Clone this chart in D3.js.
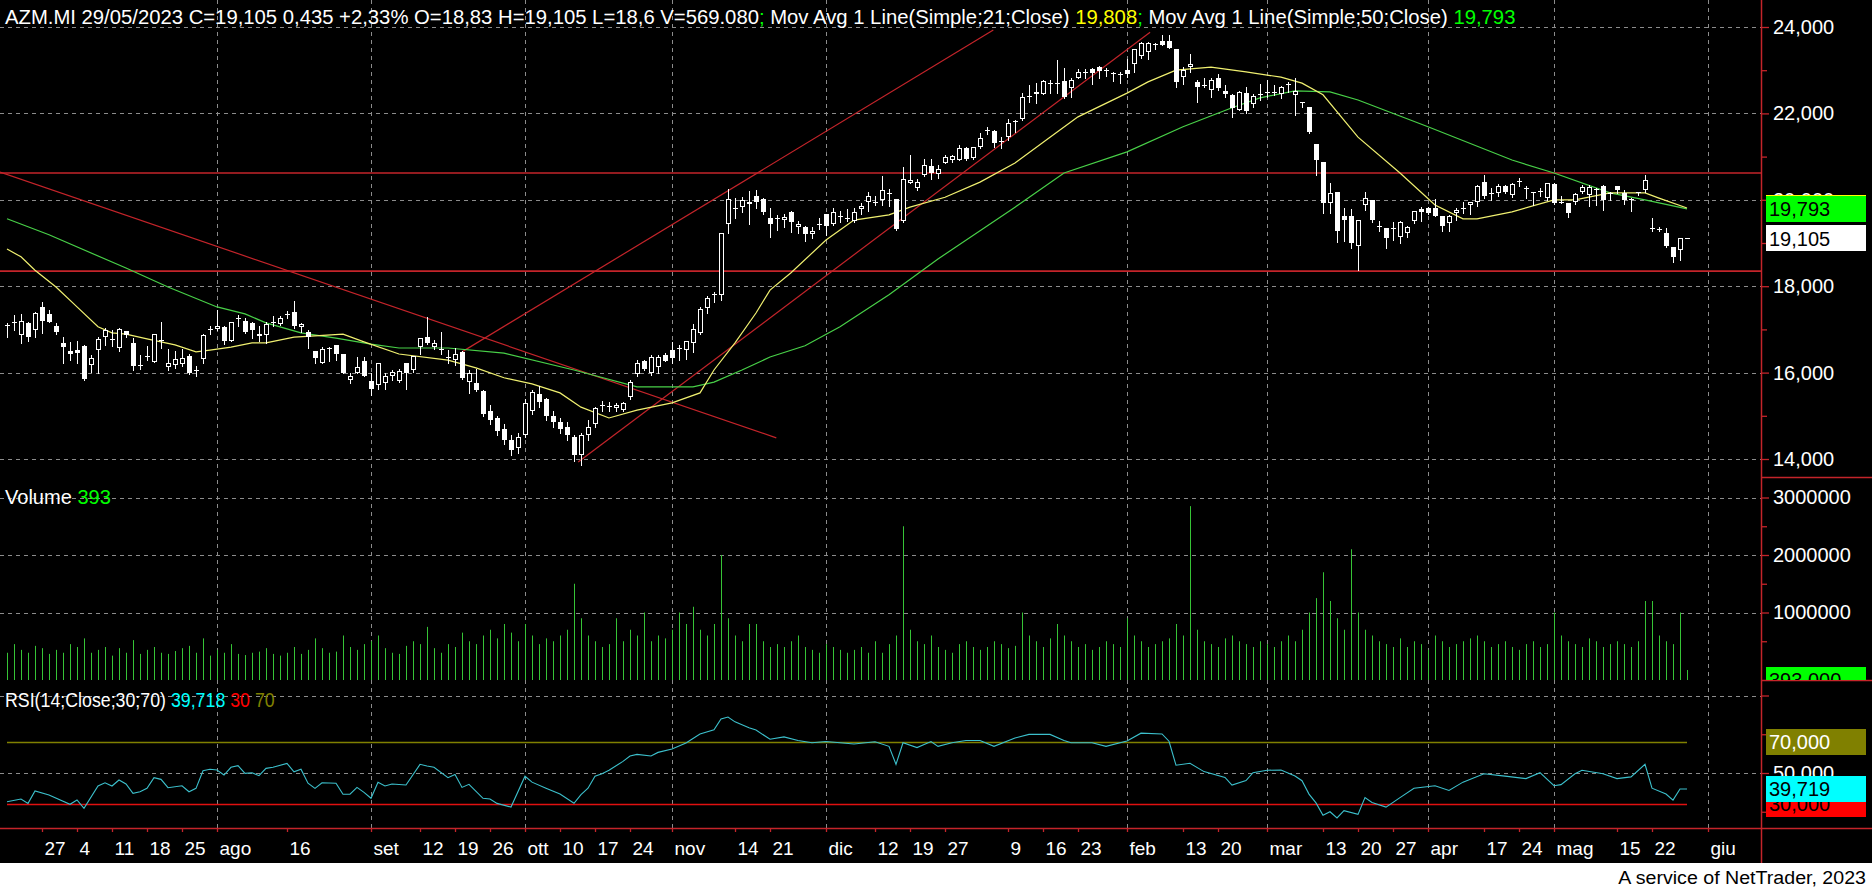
<!DOCTYPE html>
<html><head><meta charset="utf-8">
<script src="https://cdn.jsdelivr.net/npm/d3@7"></script>
<style>
html,body{margin:0;padding:0;background:#000;}
svg{display:block;}
text{font-family:"Liberation Sans",Arial,sans-serif;}
</style></head><body>
<svg id="c" width="1872" height="888"></svg>
<script>
// ---------------- DATA ----------------
const firstDate = "20/06/2022"; // trading-day index 0
const opens = [17.08,17.14,16.86,17.14,16.99,17.53,17.36,17.09,16.69,16.49,16.53,16.62,16.18,16.53,16.83,16.78,16.56,16.97,16.69,16.17,16.38,16.24,16.75,16.12,16.18,16.19,16.39,16.06,16.31,17.00,17.00,17.05,16.74,17.27,17.20,17.14,16.90,16.86,17.16,17.13,17.35,17.40,17.05,16.93,16.49,16.23,16.56,16.63,16.43,15.83,16.00,16.27,15.81,15.72,15.75,15.92,15.81,16.22,16.05,16.59,16.83,16.60,16.54,16.36,16.29,16.47,15.79,15.75,15.58,15.10,14.95,14.70,14.45,14.25,14.55,15.10,15.50,15.40,15.00,14.85,14.75,14.50,14.10,14.55,14.80,15.24,15.22,15.18,15.13,15.43,15.96,16.27,15.98,16.12,16.41,16.53,16.56,16.53,16.68,16.91,17.50,17.81,17.79,19.45,19.79,19.84,19.90,20.09,20.02,19.59,19.56,19.53,19.71,19.36,19.38,19.20,19.42,19.67,19.45,19.62,19.58,19.51,19.78,19.94,19.94,20.00,20.15,20.02,19.50,20.38,20.27,20.58,20.78,20.60,20.86,20.91,20.92,21.19,20.96,21.23,21.62,21.59,21.33,21.46,21.80,21.86,22.39,22.45,22.46,22.68,22.70,22.75,22.58,22.83,22.95,23.02,23.08,23.00,22.93,22.92,23.00,23.15,23.32,23.42,23.59,23.68,23.68,23.48,22.85,23.08,22.73,22.65,22.54,22.81,22.52,22.42,22.09,22.48,22.22,22.44,22.50,22.49,22.45,22.68,22.42,22.27,22.14,21.29,20.88,19.92,20.17,19.62,19.62,18.92,19.88,20.00,19.39,19.35,19.33,19.15,19.23,19.50,19.78,19.81,19.81,19.62,19.46,19.69,19.80,19.88,19.96,20.42,20.14,20.15,20.32,20.12,20.42,20.27,20.17,20.19,20.04,20.37,19.96,19.92,19.94,20.19,20.12,20.23,20.32,20.15,20.31,20.15,20.01,20.17,20.22,19.35,19.33,19.22,18.91,18.83,19.105];
const highs = [17.14,17.34,17.36,17.16,17.41,17.63,17.45,17.14,16.82,16.70,16.74,16.63,16.41,16.82,17.03,16.99,17.04,16.97,16.80,16.41,16.62,16.89,17.16,16.54,16.49,16.54,16.43,16.15,16.90,17.07,17.45,17.07,17.18,17.34,17.26,17.16,17.07,17.16,17.30,17.30,17.43,17.66,17.14,16.99,16.49,16.60,16.60,16.63,16.43,16.00,16.37,16.37,16.00,16.22,16.00,16.06,16.08,16.22,16.39,16.81,17.28,16.76,16.93,16.53,16.57,16.50,16.06,16.08,15.60,15.25,15.00,14.80,14.55,14.60,15.40,15.60,15.70,15.42,15.10,14.95,14.85,14.55,14.60,14.90,15.20,15.35,15.32,15.30,15.32,15.83,16.29,16.30,16.41,16.41,16.45,16.70,16.64,16.74,17.12,17.53,17.78,17.86,19.24,20.25,20.05,20.07,20.21,20.22,20.05,19.80,19.64,19.67,19.74,19.51,19.40,19.36,19.57,19.67,19.82,19.74,19.78,19.80,19.92,20.19,20.09,20.56,20.25,20.02,20.77,21.04,20.48,20.94,20.94,20.81,21.04,21.04,21.27,21.23,21.23,21.55,21.68,21.62,21.46,21.86,21.85,22.48,22.65,22.71,22.78,22.78,23.23,23.04,22.83,23.02,23.02,23.04,23.09,23.04,22.96,22.96,23.25,23.50,23.65,23.65,23.63,23.81,23.81,23.48,23.08,23.38,22.77,22.83,22.81,22.92,22.65,22.45,22.52,22.62,22.45,22.69,22.77,22.65,22.63,22.73,22.81,22.27,22.14,21.29,20.88,20.38,20.17,19.81,19.78,19.54,20.17,20.00,19.50,19.35,19.48,19.50,19.40,19.75,19.83,19.83,20.02,19.63,19.65,19.81,19.96,19.96,20.35,20.58,20.27,20.37,20.35,20.38,20.50,20.31,20.19,20.27,20.40,20.40,20.08,19.92,20.15,20.35,20.35,20.27,20.35,20.19,20.32,20.22,20.04,20.19,20.58,19.58,19.38,19.35,18.91,19.105,19.105];
const lows = [16.83,16.99,16.69,16.74,16.83,16.91,17.17,16.90,16.23,16.29,16.22,15.83,16.02,16.00,16.64,16.62,16.51,16.83,16.06,16.08,16.29,16.24,16.56,16.05,16.10,16.15,15.97,15.92,16.23,16.90,16.99,16.66,16.72,17.08,16.91,16.80,16.74,16.68,17.07,17.10,17.26,17.03,16.95,16.56,16.23,16.23,16.28,16.29,15.98,15.77,15.98,15.91,15.48,15.61,15.61,15.83,15.78,15.61,16.02,16.43,16.66,16.54,16.43,16.22,16.18,15.85,15.52,15.58,15.00,14.80,14.55,14.35,14.10,14.15,14.50,15.05,15.20,14.90,14.75,14.60,14.45,13.95,13.85,14.45,14.75,15.10,15.10,15.12,15.10,15.40,15.92,16.05,15.95,15.98,16.26,16.22,16.29,16.31,16.47,16.90,17.38,17.63,17.67,19.24,19.59,19.72,19.43,19.82,19.67,19.15,19.30,19.36,19.26,19.24,19.05,19.12,19.33,19.18,19.41,19.49,19.51,19.49,19.67,19.74,19.88,19.88,19.85,19.29,19.48,20.38,20.23,20.55,20.48,20.50,20.85,20.88,20.91,20.92,20.94,21.19,21.52,21.23,21.19,21.38,21.58,21.85,22.27,22.25,22.45,22.48,22.48,22.35,22.37,22.81,22.83,22.68,22.83,22.86,22.75,22.71,22.85,22.96,23.29,23.27,23.50,23.58,23.52,22.62,22.69,22.96,22.27,22.62,22.37,22.54,22.37,21.92,22.08,22.00,22.15,22.31,22.38,22.42,22.35,22.50,21.96,22.14,21.54,20.58,19.69,19.69,19.02,19.04,18.88,18.37,19.77,19.48,19.27,18.88,19.06,19.00,19.14,19.46,19.50,19.68,19.62,19.27,19.27,19.54,19.69,19.68,19.85,20.04,20.00,20.09,20.15,20.06,20.31,20.04,19.88,20.08,20.00,19.91,19.92,19.60,19.91,20.15,19.85,19.88,19.77,20.00,20.15,19.91,19.75,20.12,20.19,19.27,19.27,18.91,18.55,18.60,19.105];
const closes = [17.10,17.16,17.20,16.83,17.39,17.20,17.18,16.95,16.60,16.42,16.45,15.85,16.33,16.77,16.99,16.76,17.01,16.86,16.15,16.15,16.37,16.89,16.76,16.23,16.31,16.33,15.98,16.05,16.86,17.01,17.07,16.74,17.17,17.26,16.93,16.99,16.85,17.13,17.17,17.26,17.36,17.07,17.13,16.82,16.33,16.54,16.55,16.43,15.98,15.91,16.14,15.91,15.61,16.22,15.91,16.02,16.04,15.98,16.39,16.80,16.69,16.68,16.53,16.35,16.43,15.87,16.00,15.60,15.05,14.90,14.65,14.45,14.20,14.50,15.30,15.55,15.32,15.00,14.85,14.70,14.55,14.10,14.55,14.75,15.18,15.25,15.23,15.25,15.30,15.79,16.22,16.08,16.37,16.37,16.28,16.33,16.57,16.72,17.01,17.47,17.73,17.82,19.22,20.02,19.80,19.99,19.95,19.96,19.71,19.43,19.57,19.61,19.49,19.43,19.20,19.28,19.43,19.40,19.71,19.63,19.59,19.72,19.86,20.09,19.95,20.23,20.16,19.32,20.48,20.45,20.42,20.81,20.63,20.71,21.00,21.02,21.19,20.94,21.23,21.42,21.60,21.32,21.36,21.78,21.82,22.37,22.41,22.50,22.75,22.70,22.71,22.37,22.78,22.96,22.96,22.94,22.98,23.00,22.92,22.90,22.91,23.48,23.62,23.63,23.60,23.58,23.52,22.73,23.00,23.15,22.62,22.66,22.77,22.58,22.46,22.12,22.50,22.06,22.40,22.45,22.50,22.50,22.62,22.69,22.52,22.27,21.58,20.91,19.92,20.15,19.27,19.54,19.00,19.54,20.04,19.54,19.38,19.12,19.35,19.48,19.38,19.73,19.71,19.69,19.63,19.40,19.62,19.77,19.81,19.94,20.32,20.09,20.15,20.31,20.19,20.37,20.43,20.26,20.16,20.20,20.38,19.92,19.95,19.69,20.14,20.29,20.29,20.24,20.00,20.16,20.22,20.00,20.00,20.17,20.45,19.34,19.32,18.92,18.67,19.105,19.105];
const volumes = [300000,450000,350000,300000,420000,380000,280000,350000,300000,450000,400000,550000,300000,350000,400000,250000,380000,300000,520000,280000,350000,400000,300000,280000,330000,380000,420000,300000,550000,250000,350000,300000,450000,280000,260000,300000,320000,380000,280000,250000,300000,400000,280000,350000,550000,380000,300000,320000,600000,400000,350000,450000,500000,600000,380000,300000,280000,420000,500000,450000,750000,380000,300000,450000,400000,650000,500000,450000,600000,700000,550000,800000,650000,500000,800000,600000,450000,550000,500000,600000,700000,1500000,900000,600000,500000,400000,450000,900000,500000,700000,600000,1000000,500000,600000,550000,700000,1000000,800000,1100000,700000,600000,800000,2000000,900000,600000,500000,800000,800000,500000,400000,450000,400000,500000,600000,400000,350000,300000,450000,400000,350000,300000,350000,400000,300000,500000,300000,450000,600000,2500000,700000,500000,450000,600000,400000,350000,300000,450000,500000,400000,350000,400000,500000,450000,380000,420000,1000000,600000,500000,400000,550000,800000,600000,500000,400000,450000,350000,400000,500000,450000,400000,900000,600000,500000,400000,450000,500000,550000,800000,600000,2850000,700000,500000,450000,400000,550000,600000,500000,450000,400000,500000,450000,400000,500000,600000,500000,700000,1000000,1250000,1700000,1200000,900000,700000,2100000,1000000,700000,600000,500000,450000,400000,550000,400000,500000,450000,350000,600000,500000,400000,450000,500000,550000,600000,500000,400000,450000,500000,400000,350000,450000,500000,400000,450000,1000000,600000,500000,450000,400000,550000,500000,400000,450000,500000,450000,400000,500000,1200000,1200000,600000,500000,450000,1000000,393];

const ma21Idx = [0,2,4,7,10,13,15,17,20,24,27,29,32,35,37,41,44,48,51,56,63,67,71,75,79,82,86,90,95,99,101,104,107,109,112,117,121,126,129,134,139,144,149,153,160,163,167,172,177,182,185,188,193,199,204,208,210,215,221,224,229,234,236,240];
const ma21Val = [18.86,18.68,18.37,17.98,17.52,17.06,16.92,16.89,16.78,16.64,16.48,16.52,16.59,16.69,16.69,16.82,16.85,16.89,16.71,16.43,16.29,16.11,15.88,15.74,15.53,15.20,14.95,15.13,15.30,15.53,16.06,16.69,17.38,17.91,18.31,19.07,19.53,19.65,19.83,20.06,20.41,20.85,21.45,21.92,22.47,22.73,23.00,23.07,22.96,22.84,22.70,22.43,21.45,20.62,19.88,19.56,19.56,19.72,20.00,20.00,20.16,20.16,20.04,19.81];
const ma50Idx = [0,6,17,23,30,34,37,42,47,52,56,63,71,81,90,98,101,105,109,114,119,126,133,144,151,160,168,175,179,184,189,193,203,215,221,229,234,240];
const ma50Val = [19.56,19.19,18.42,17.98,17.52,17.36,17.15,16.92,16.80,16.66,16.57,16.57,16.45,16.06,15.67,15.67,15.78,16.06,16.36,16.62,17.06,17.80,18.63,19.83,20.62,21.11,21.69,22.13,22.36,22.52,22.50,22.31,21.69,20.92,20.62,20.16,20.00,19.79];
const rsiIdx = [0,2,3,4,6,9,10,11,13,14,15,16,17,18,19,20,21,22,23,25,26,27,28,29,30,31,32,33,34,35,36,37,38,40,41,42,43,44,45,47,48,49,50,51,52,53,54,55,57,59,60,61,63,64,65,66,68,69,70,72,74,75,77,79,81,82,83,84,85,86,88,89,90,92,93,95,97,99,101,102,103,104,106,107,109,111,113,115,117,119,121,124,126,127,128,130,132,133,135,137,139,141,144,146,149,151,152,155,157,160,162,165,166,167,169,171,174,175,177,178,180,182,184,185,186,187,188,189,190,191,193,194,195,197,199,201,204,206,208,211,214,217,219,221,222,224,225,228,230,232,234,235,237,238,239,240];
const rsiVal = [31.5,33.2,30.4,38.4,35.8,29.8,32.6,27.2,41.6,43.7,41.6,45.5,42.9,36.9,37.9,40.1,47.0,45.9,40.5,41.8,37.9,40.1,51.5,52.4,51.9,48.7,53.7,54.7,49.8,50.2,48.3,53.0,53.7,56.2,50.8,52.4,43.4,40.1,43.7,43.4,36.3,36.3,40.7,37.5,33.7,44.0,41.6,42.9,42.3,55.6,54.5,53.7,47.0,49.1,40.7,42.7,33.7,33.2,30.4,28.0,47.9,44.1,40.2,36.4,30.5,36.1,40.2,47.9,49.5,51.8,57.5,61.0,62.0,61.0,63.3,65.5,69.3,75.2,77.9,84.9,86.1,83.0,79.2,77.7,71.8,73.3,71.0,69.5,70.3,69.5,68.7,70.2,67.2,55.6,69.5,66.4,70.3,67.2,69.5,71.0,71.0,67.2,72.6,74.9,74.9,71.0,69.5,69.5,67.2,70.7,75.7,75.2,70.5,55.0,56.3,50.9,47.1,42.2,45.1,50.2,51.8,51.9,48.0,45.0,36.4,30.7,22.8,25.0,21.0,25.7,23.3,34.1,31.0,28.0,34.1,40.2,41.8,38.7,44.1,49.5,48.0,46.4,50.2,41.8,42.5,49.5,51.8,49.5,46.4,47.5,55.6,40.2,36.4,32.5,39.7,39.7];

const tickIdx = [5,10,15,20,25,30,40,52,59,64,69,74,79,84,89,95,104,109,117,124,129,134,143,148,153,160,168,173,180,188,193,198,203,211,216,221,230,235,243];
const tickLabels = ["27","4","11","18","25","ago","16","set","12","19","26","ott","10","17","24","nov","14","21","dic","12","19","27","9","16","23","feb","13","20","mar","13","20","27","apr","17","24","mag","15","22","giu"];
const monthGridIdx = [30,52,74,95,117,160,180,203,221,243];
const priceTicks = [14,16,18,20,22,24];
const priceMinor = [15,17,19,21,23];
const volTicks = [1000000,2000000,3000000];
const volMinor = [500000,1500000,2500000];
const rsiTicks = [50,100];
const rsiMinor = [25,75];
const hLevels = [20.62,18.35];
const trendFromIdx = [-1,65,81.6], trendFromVal = [20.64,16.48,13.93];
const trendToIdx = [109.9,140.9,163.3], trendToVal = [14.49,23.93,23.88];
const lastMA21 = 19.808, lastMA50 = 19.793, lastClose = 19.105, lastVol = 393, lastRSI = 39.719;

// ---------------- LAYOUT ----------------
const W = 1872, H = 888, axisX = 1761;
const P = {top:0, bottom:477}, V = {top:477, bottom:680}, R = {top:680, bottom:828};
const RED = "#c4242a", GRID = "#8c8c8c";
const svg = d3.select("#c");
const itFmt = d3.formatLocale({decimal:",", thousands:".", grouping:[3], currency:["",""]});
const f3 = itFmt.format(".3f");

const x = d3.scaleLinear().domain([0,243]).range([7,1708]);
const yP = d3.scaleLinear().domain([14,24]).range([459,27]);
const yV = d3.scaleLinear().domain([0,3000000]).range([670,497.5]);
const yR = d3.scaleLinear().domain([50,70]).range([773,742]);

svg.append("rect").attr("width",W).attr("height",H).attr("fill","#000");
svg.append("rect").attr("x",0).attr("y",863).attr("width",W).attr("height",H-863).attr("fill","#fff");

const defs = svg.append("defs");
function clip(id,x0,y0,w,h){defs.append("clipPath").attr("id",id).append("rect").attr("x",x0).attr("y",y0).attr("width",w).attr("height",h);}
clip("cp",0,P.top,axisX,P.bottom-P.top);
clip("cv",0,V.top,axisX,V.bottom-V.top);
clip("cr",0,R.top,axisX,R.bottom-R.top);
clip("cva",axisX,V.top,W-axisX,V.bottom-V.top);

// grid: horizontal dashed
function hgrid(scale, vals){
  svg.append("g").selectAll("line").data(vals).join("line")
    .attr("x1",0).attr("x2",axisX).attr("y1",d=>Math.round(scale(d))+0.5).attr("y2",d=>Math.round(scale(d))+0.5)
    .attr("stroke",GRID).attr("stroke-dasharray","4,4");
}
hgrid(yP, priceTicks); hgrid(yV, volTicks); hgrid(yR, rsiTicks);
// vertical month grid
svg.append("g").selectAll("line").data(monthGridIdx).join("line")
  .attr("x1",d=>Math.round(x(d))+0.5).attr("x2",d=>Math.round(x(d))+0.5).attr("y1",0).attr("y2",R.bottom)
  .attr("stroke",GRID).attr("stroke-dasharray","4,4");

// ---------- price panel ----------
const gp = svg.append("g").attr("clip-path","url(#cp)");
gp.selectAll("line.h").data(hLevels).join("line").attr("class","h")
  .attr("x1",0).attr("x2",axisX).attr("y1",d=>yP(d)).attr("y2",d=>yP(d))
  .attr("stroke",RED).attr("stroke-width",1.6);
gp.selectAll("line.t").data(d3.range(trendFromIdx.length)).join("line").attr("class","t")
  .attr("x1",k=>x(trendFromIdx[k])).attr("y1",k=>yP(trendFromVal[k]))
  .attr("x2",k=>x(trendToIdx[k])).attr("y2",k=>yP(trendToVal[k]))
  .attr("stroke",RED).attr("stroke-width",1.2);

const line = (xs,ys,sc)=>d3.line().x((d,k)=>x(xs[k])).y((d,k)=>sc(ys[k]))(xs);
gp.append("path").attr("d",line(ma50Idx,ma50Val,yP)).attr("fill","none").attr("stroke","#48d048").attr("stroke-width",1.2);
gp.append("path").attr("d",line(ma21Idx,ma21Val,yP)).attr("fill","none").attr("stroke","#f0f070").attr("stroke-width",1.2);

const idx = d3.range(opens.length);
const cg = gp.append("g");
idx.forEach(i=>{
  const cx = Math.round(x(i));
  const o=opens[i], c=closes[i], h=highs[i], l=lows[i];
  cg.append("line").attr("x1",cx+0.5).attr("x2",cx+0.5).attr("y1",Math.round(yP(h))).attr("y2",Math.round(yP(l))+1).attr("stroke","#fff");
  const yt = Math.round(yP(Math.max(o,c))), yb = Math.round(yP(Math.min(o,c)));
  if (yb-yt < 2){
    cg.append("rect").attr("x",cx-2).attr("y",yt).attr("width",5).attr("height",Math.max(1,yb-yt)).attr("fill","#fff");
  } else if (c>o){
    cg.append("rect").attr("x",cx-1.5).attr("y",yt+0.5).attr("width",4).attr("height",yb-yt-1).attr("fill","#000").attr("stroke","#fff");
  } else {
    cg.append("rect").attr("x",cx-2).attr("y",yt).attr("width",5).attr("height",yb-yt).attr("fill","#fff");
  }
});

// ---------- volume panel ----------
const gv = svg.append("g").attr("clip-path","url(#cv)");
gv.selectAll("rect").data(idx).join("rect")
  .attr("x",i=>Math.round(x(i))).attr("width",1)
  .attr("y",i=>yV(volumes[i])).attr("height",i=>V.bottom-yV(volumes[i]))
  .attr("fill","#36c436");

// ---------- RSI panel ----------
const gr = svg.append("g").attr("clip-path","url(#cr)");
gr.append("line").attr("x1",x(0)).attr("x2",x(240)).attr("y1",Math.round(yR(70))+0.5).attr("y2",Math.round(yR(70))+0.5).attr("stroke","#808000").attr("stroke-width",1.3);
gr.append("line").attr("x1",x(0)).attr("x2",x(240)).attr("y1",Math.round(yR(30))+0.5).attr("y2",Math.round(yR(30))+0.5).attr("stroke","#e01010").attr("stroke-width",1.3);
gr.append("path").attr("d",line(rsiIdx,rsiVal,yR)).attr("fill","none").attr("stroke","#3cc0cc").attr("stroke-width",1.1);

// ---------- axes ----------
svg.append("line").attr("x1",axisX+0.5).attr("x2",axisX+0.5).attr("y1",0).attr("y2",863).attr("stroke",RED).attr("stroke-width",1.5);
svg.append("line").attr("x1",0).attr("x2",W).attr("y1",R.bottom+0.5).attr("y2",R.bottom+0.5).attr("stroke",RED).attr("stroke-width",1.5);
[P.bottom, V.bottom].forEach(yy=>svg.append("line").attr("x1",axisX).attr("x2",W).attr("y1",yy+0.5).attr("y2",yy+0.5).attr("stroke",RED).attr("stroke-width",1.5));

function styleAxis(g){
  g.select(".domain").remove();
  g.selectAll(".tick line").attr("stroke",RED).attr("stroke-width",1.3);
  g.selectAll(".tick text").attr("fill","#fff").attr("font-size",20).attr("font-family","'Liberation Sans',Arial,sans-serif");
}
svg.append("g").attr("transform",`translate(${axisX},0)`).call(d3.axisRight(yP).tickValues(priceTicks).tickSize(8).tickPadding(4).tickFormat(f3)).call(styleAxis);
svg.append("g").attr("transform",`translate(${axisX},0)`).call(d3.axisRight(yP).tickValues(priceMinor).tickSize(6).tickFormat("")).call(styleAxis);
svg.append("g").attr("transform",`translate(${axisX},0)`).call(d3.axisRight(yV).tickValues(volTicks).tickSize(8).tickPadding(4).tickFormat(d3.format("d"))).call(styleAxis);
svg.append("g").attr("transform",`translate(${axisX},0)`).call(d3.axisRight(yV).tickValues(volMinor).tickSize(6).tickFormat("")).call(styleAxis);
svg.append("g").attr("transform",`translate(${axisX},0)`).call(d3.axisRight(yR).tickValues(rsiTicks).tickSize(8).tickPadding(4).tickFormat(d=>d===50?f3(d):"")).call(styleAxis);
svg.append("g").attr("transform",`translate(${axisX},0)`).call(d3.axisRight(yR).tickValues(rsiMinor).tickSize(6).tickFormat("")).call(styleAxis);

// x axis
const xa = svg.append("g").attr("transform",`translate(0,${R.bottom})`)
  .call(d3.axisBottom(x).tickValues(tickIdx).tickSize(4).tickPadding(6).tickFormat((d,k)=>tickLabels[k]));
xa.select(".domain").remove();
xa.selectAll(".tick line").attr("stroke",RED).attr("stroke-width",1.3);
xa.selectAll(".tick text").attr("fill","#fff").attr("font-size",19).attr("text-anchor","start").attr("x",2).attr("dy","0.9em");

// ---------- value tags ----------
function tag(yc, bg, fg, txt, clipId){
  const g = svg.append("g"); if (clipId) g.attr("clip-path",`url(#${clipId})`);
  g.append("rect").attr("x",1766).attr("y",Math.round(yc-13)).attr("width",100).attr("height",26).attr("fill",bg);
  g.append("text").attr("x",1769).attr("y",yc).attr("dy","0.36em").attr("font-size",20).attr("fill",fg).text(txt);
}
tag(yP(lastMA21),"#ffff00","#000",f3(lastMA21));
tag(yP(lastMA50),"#00ff00","#000",f3(lastMA50));
tag(yP(lastClose),"#ffffff","#000",f3(lastClose));
tag(V.bottom,"#00ff00","#000",f3(lastVol),"cva");
tag(yR(70),"#808000","#fff",f3(70));
tag(yR(30),"#ff0000","#000",f3(30));
tag(yR(lastRSI),"#00ffff","#000",f3(lastRSI));

// ---------- texts ----------
function multi(xp, yp, parts, fs, targetW, anchor){
  const t = svg.append("text").attr("x",xp).attr("y",yp).attr("font-size",fs).attr("xml:space","preserve");
  if (anchor) t.attr("text-anchor",anchor);
  parts.forEach(([s,col])=>t.append("tspan").attr("fill",col).text(s));
  if (targetW){
    const k = targetW / t.node().getComputedTextLength();
    t.attr("transform",`translate(${xp},0) scale(${k},1) translate(${-xp},0)`);
  }
  return t;
}
multi(5, 24, [
  ["AZM.MI 29/05/2023 C=19,105 0,435 +2,33% O=18,83 H=19,105 L=18,6 V=569.080","#fff"],[";","#00ff00"],
  [" Mov Avg 1 Line(Simple;21;Close) ","#fff"],["19,808","#ffff00"],[";","#00ff00"],
  [" Mov Avg 1 Line(Simple;50;Close) ","#fff"],["19,793","#00ff00"]], 20, 1512);
multi(5, 504, [["Volume ","#fff"],["393","#00ff00"]], 20, 106);
multi(5, 707, [["RSI(14;Close;30;70) ","#fff"],["39,718","#00ffff"],[" 30","#ff0000"],[" 70","#808000"]], 20, 270);
multi(1866, 884, [["A service of NetTrader, 2023","#000"]], 19, 248, "end");
</script>
</body></html>
